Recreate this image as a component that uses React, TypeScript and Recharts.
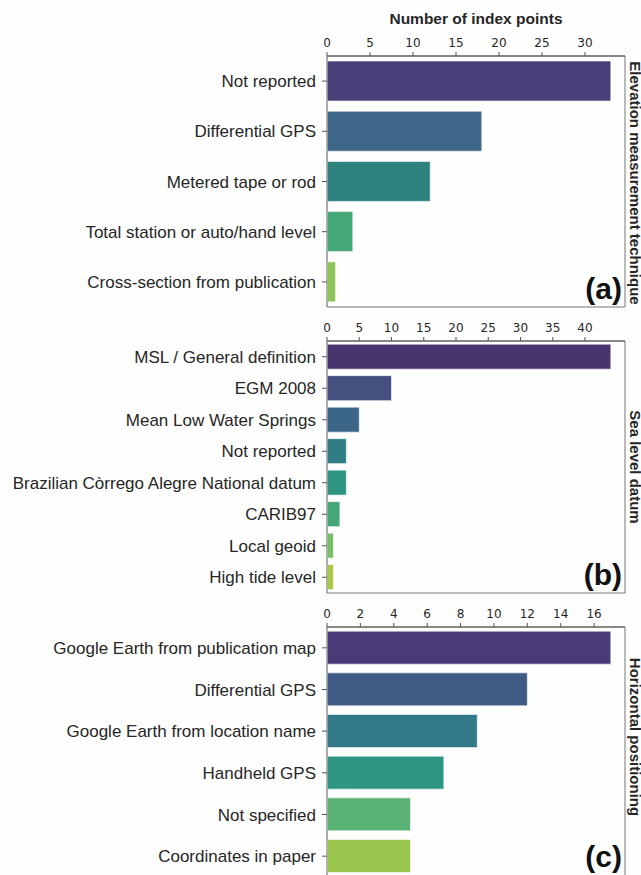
import React from 'react';
import { BarChart, Bar, XAxis, YAxis, Cell, ReferenceArea } from 'recharts';

// panel (a) elevation measurement technique
const elevationLabels = [
  'Not reported',
  'Differential GPS',
  'Metered tape or rod',
  'Total station or auto/hand level',
  'Cross-section from publication',
];
const elevationCounts = [33, 18, 12, 3, 1];
const elevationTicks = [0, 5, 10, 15, 20, 25, 30];

// panel (b) sea level datum
const datumLabels = [
  'MSL / General definition',
  'EGM 2008',
  'Mean Low Water Springs',
  'Not reported',
  'Brazilian Còrrego Alegre National datum',
  'CARIB97',
  'Local geoid',
  'High tide level',
];
const datumCounts = [44, 10, 5, 3, 3, 2, 1, 1];
const datumTicks = [0, 5, 10, 15, 20, 25, 30, 35, 40];

// panel (c) horizontal positioning
const positioningLabels = [
  'Google Earth from publication map',
  'Differential GPS',
  'Google Earth from location name',
  'Handheld GPS',
  'Not specified',
  'Coordinates in paper',
];
const positioningCounts = [17, 12, 9, 7, 5, 5];
const positioningTicks = [0, 2, 4, 6, 8, 10, 12, 14, 16];

const colorsA = ['#4b3f7a', '#3f6789', '#2f837f', '#45a778', '#8fc556'];
const colorsB = ['#4a3470', '#454f80', '#3b6687', '#307d86', '#2f9480', '#45a778', '#77bf66', '#a9c842'];
const colorsC = ['#4a3b78', '#405a86', '#327989', '#2f9683', '#59b273', '#9ac64e'];

const TEXT = '#262626';

interface PanelProps {
  labels: string[];
  values: number[];
  ticks: number[];
  colors: string[];
  top: number;
  height: number;
}

const Panel: React.FC<PanelProps> = ({ labels, values, ticks, colors, top, height }) => {
  const data = labels.map((name, i) => ({ name, value: values[i] }));
  const max = Math.max(...values) * 1.05;
  return (
    <div style={{ position: 'absolute', left: 0, top }}>
      <BarChart
        width={641}
        height={height}
        data={data}
        layout="vertical"
        margin={{ top: 1, right: 16, bottom: 1, left: 0 }}
        barCategoryGap="10%"
      >
        <XAxis
          type="number"
          orientation="top"
          domain={[0, max]}
          ticks={ticks}
          height={30}
          tickSize={4}
          tickMargin={5}
          tick={{ fill: TEXT, fontSize: 12, fontFamily: 'DejaVu Sans' }}
          stroke="#555"
          axisLine={{ stroke: '#555' }}
        />
        <YAxis
          type="category"
          dataKey="name"
          width={327}
          tickSize={5}
          tickMargin={6}
          interval={0}
          tick={{ fill: TEXT, fontSize: 17, fontFamily: 'Liberation Sans, Arial' }}
          stroke="#555"
          axisLine={{ stroke: '#999' }}
        />
        <ReferenceArea x1={0} x2={max} fill="none" stroke="#777" strokeWidth={1} />
        <Bar dataKey="value" isAnimationActive={false} stroke="#ffffff" strokeWidth={0.6}>
          {data.map((d, i) => (
            <Cell key={d.name} fill={colors[i]} />
          ))}
        </Bar>
      </BarChart>
    </div>
  );
};

const sideLabel = (text: string, cy: number) => (
  <div
    style={{
      position: 'absolute',
      left: 635,
      top: cy,
      transform: 'translate(-50%, -50%) rotate(90deg)',
      whiteSpace: 'nowrap',
      fontFamily: 'Liberation Sans, Arial',
      fontWeight: 'bold',
      fontSize: 15,
      color: TEXT,
    }}
  >
    {text}
  </div>
);

const panelTag = (text: string, bottom: number) => (
  <div
    style={{
      position: 'absolute',
      right: 641 - 622,
      top: bottom - 34,
      fontFamily: 'Liberation Sans, Arial',
      fontWeight: 'bold',
      fontSize: 30,
      lineHeight: '34px',
      color: '#111',
    }}
  >
    {text}
  </div>
);

export default function App() {
  return (
    <div
      style={{
        position: 'absolute',
        left: 0,
        top: 0,
        width: 641,
        height: 875,
        overflow: 'hidden',
        background: '#fefefe',
      }}
    >
      <div
        style={{
          position: 'absolute',
          left: 327,
          width: 298,
          top: 10,
          textAlign: 'center',
          fontFamily: 'Liberation Sans, Arial',
          fontWeight: 'bold',
          fontSize: 15.5,
          color: TEXT,
        }}
      >
        Number of index points
      </div>
      <Panel labels={elevationLabels} values={elevationCounts} ticks={elevationTicks} colors={colorsA} top={25} height={283} />
      <Panel labels={datumLabels} values={datumCounts} ticks={datumTicks} colors={colorsB} top={310} height={284} />
      <Panel labels={positioningLabels} values={positioningCounts} ticks={positioningTicks} colors={colorsC} top={596} height={282} />
      {sideLabel('Elevation measurement technique', 183)}
      {sideLabel('Sea level datum', 467)}
      {sideLabel('Horizontal positioning', 737)}
      {panelTag('(a)', 306)}
      {panelTag('(b)', 592)}
      {panelTag('(c)', 874)}
    </div>
  );
}
